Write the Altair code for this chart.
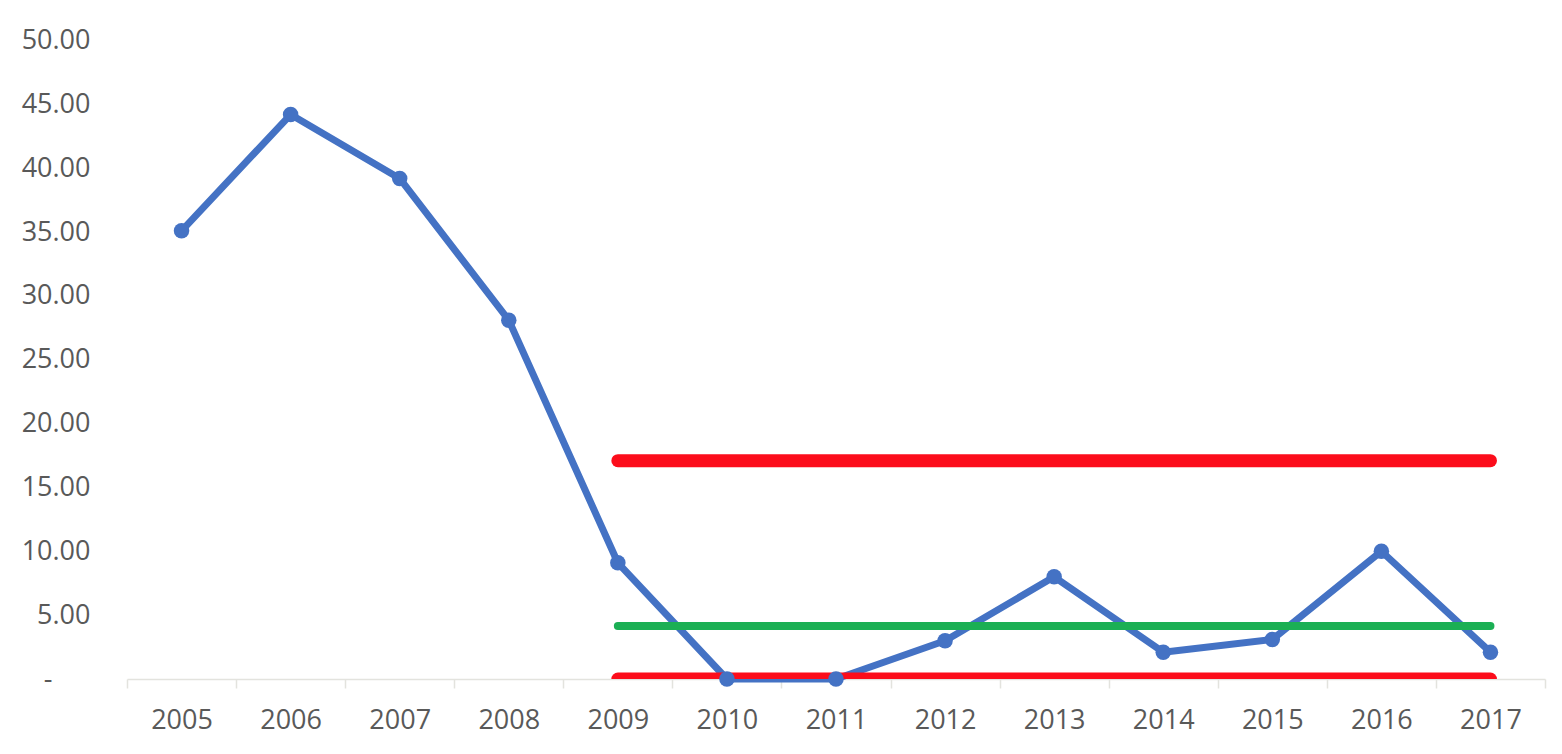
import altair as alt
import pandas as pd

years = [str(y) for y in range(2005, 2018)]
values = [35.1, 44.2, 39.2, 28.1, 9.1, 0.0, 0.0, 3.0, 8.0, 2.1, 3.1, 10.0, 2.1]

limit_years = [str(y) for y in range(2009, 2018)]
upper_limit = 17.1
center_line = 4.15
lower_limit = 0.0

df = pd.DataFrame({"year": years, "value": values})
lim = pd.DataFrame({
    "year": limit_years,
    "ucl": [upper_limit] * len(limit_years),
    "cl": [center_line] * len(limit_years),
    "lcl": [lower_limit] * len(limit_years),
})

FONT = "Open Sans"
LABEL = "#595959"

x_enc = alt.X(
    "year:O",
    sort=years,
    scale=alt.Scale(domain=years, paddingInner=0, paddingOuter=0),
    axis=alt.Axis(
        title=None, labelAngle=0, tickBand="extent", tickSize=9,
        tickColor="#E3E3DE", tickWidth=1.5, domainColor="#E3E3DE", domainWidth=1.5,
        labelFont=FONT, labelFontSize=27, labelColor=LABEL, labelPadding=19,
        grid=False,
    ),
)
y_scale = alt.Scale(domain=[0, 50], nice=False, zero=True)
y_enc = alt.Y(
    "value:Q",
    scale=y_scale,
    axis=alt.Axis(
        title=None, values=list(range(0, 55, 5)), grid=False, ticks=False, domain=False,
        labelFont=FONT, labelFontSize=27, labelColor=LABEL,
        labelPadding={"condition": {"test": "datum.value === 0", "value": 75}, "value": 37},
        labelExpr="datum.value == 0 ? '-' : format(datum.value, '.2f')",
    ),
)

base_lim = alt.Chart(lim)
ucl = base_lim.mark_line(color="#FC0D1B", strokeWidth=13, strokeCap="round").encode(
    x=alt.X("year:O", sort=years), y=alt.Y("ucl:Q", scale=y_scale))
lcl = base_lim.mark_line(color="#FC0D1B", strokeWidth=13, strokeCap="round", clip=True).encode(
    x=alt.X("year:O", sort=years), y=alt.Y("lcl:Q", scale=y_scale))
cl = base_lim.mark_line(color="#1BAF54", strokeWidth=8, strokeCap="round").encode(
    x=alt.X("year:O", sort=years), y=alt.Y("cl:Q", scale=y_scale))

base = alt.Chart(df).encode(x=x_enc, y=y_enc)
line = base.mark_line(color="#4472C4", strokeWidth=7, strokeJoin="round")
pts = base.mark_circle(color="#4472C4", size=240, opacity=1)

chart = alt.layer(line, ucl, lcl, cl, pts).properties(
    width=1418, height=638.5,
    background="white",
    autosize=alt.AutoSizeParams(type="none"),
    padding={"left": 119, "top": 32.5, "right": 8, "bottom": 64},
).configure_view(stroke=None, strokeWidth=0)

chart.save("out.html", embed_options={"renderer": "svg", "actions": False})
